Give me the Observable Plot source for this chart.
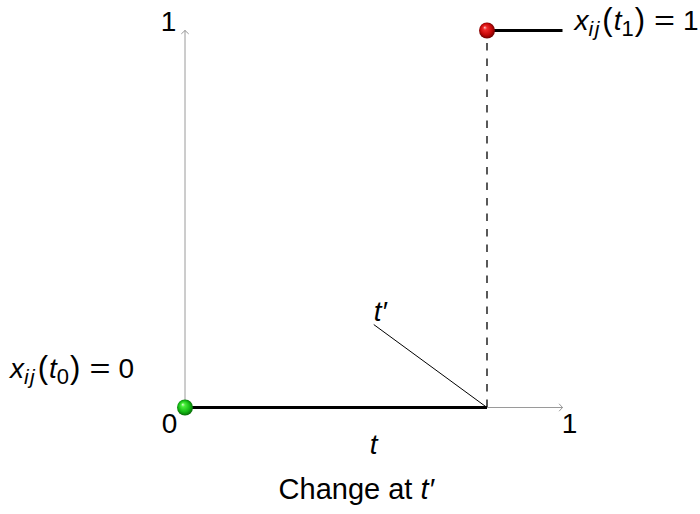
<!DOCTYPE html>
<html>
<head>
<meta charset="utf-8">
<script src="https://cdn.jsdelivr.net/npm/d3@7"></script>
<script src="https://cdn.jsdelivr.net/npm/@observablehq/plot@0.6"></script>
<style>
  html, body { margin: 0; padding: 0; background: #fff; }
  #chart svg { display: block; }
</style>
</head>
<body>
<div id="chart"></div>
<script>
// ---- data ----
const axisFrom = [0, 0];          // origin (t, x)
const axisTEnd = 1;               // end of the t axis
const axisXEnd = 1;               // end of the state axis
const tPrime = 0.8;               // change time t'
const beforeT = [0, tPrime];      // state 0 segment
const afterT = [tPrime, 1];       // state 1 segment
const stateValues = [0, 1];
const pointT = [0, tPrime];
const pointX = [0, 1];
const pointKind = ["green", "red"];
const annotAnchor = [0.5, 0.22];  // where the t' pointer starts (t, x)
const tickLabels = ["0", "1", "1"];
const stateLabels = ["$x_{ij}(t_{0}) = 0$", "$x_{ij}(t_{1}) = 1$"];
const axisLabel = "$t$";
const annotLabel = "$t'$";
const captionText = "Change at $t'$";

// ---- derived tables ----
const axes = [
  {x1: axisFrom[0], y1: axisFrom[1], x2: axisTEnd, y2: axisFrom[1]},
  {x1: axisFrom[0], y1: axisFrom[1], x2: axisFrom[0], y2: axisXEnd}
];
const segments = [
  {x1: beforeT[0], x2: beforeT[1], y: stateValues[0]},
  {x1: afterT[0], x2: afterT[1], y: stateValues[1]}
];
const points = pointT.map((t, i) => ({t, x: pointX[i], kind: pointKind[i]}));

const FONT = "Liberation Sans, Arial, Helvetica, sans-serif";
const FS = 28;

const chart = Plot.plot({
  width: 700,
  height: 514,
  marginLeft: 184.5,
  marginRight: 138,
  marginTop: 30,
  marginBottom: 107,
  x: {domain: [0, 1], axis: null},
  y: {domain: [0, 1], axis: null},
  style: {fontFamily: FONT, background: "white", color: "black"},
  marks: [
    Plot.arrow(axes, {x1: "x1", y1: "y1", x2: "x2", y2: "y2", stroke: "#9a9a9a", strokeWidth: 1, headAngle: 95, headLength: 7}),
    Plot.ruleX([tPrime], {y1: stateValues[0], y2: stateValues[1], stroke: "black", strokeWidth: 1.3, strokeDasharray: "7.5,8"}),
    Plot.link([0], {x1: annotAnchor[0], y1: annotAnchor[1], x2: tPrime, y2: stateValues[0], stroke: "black", strokeWidth: 1}),
    Plot.link(segments, {x1: "x1", x2: "x2", y1: "y", y2: "y", stroke: "black", strokeWidth: 3}),
    Plot.dot(points.filter(d => d.kind === "green"), {x: "t", y: "x", r: 8, fill: "url(#ballGreen)", stroke: "none"}),
    Plot.dot(points.filter(d => d.kind === "red"), {x: "t", y: "x", r: 8, fill: "url(#ballRed)", stroke: "none"}),
    // tick labels
    Plot.text([tickLabels[0]], {x: 0, y: 0, text: d => d, dx: -15.5, dy: 17, fontSize: FS, fill: "black"}),
    Plot.text([tickLabels[1]], {x: 1, y: 0, text: d => d, dx: 7, dy: 17, fontSize: FS, fill: "black"}),
    Plot.text([tickLabels[2]], {x: 0, y: 1, text: d => d, dx: -16.5, dy: -8, fontSize: FS, fill: "black"}),
    // state labels
    Plot.text([stateLabels[0]], {x: 0, y: 0, text: d => d, textAnchor: "end", dx: -51, dy: -38, fontSize: FS, fill: "black"}),
    Plot.text([stateLabels[1]], {x: 1, y: 1, text: d => d, textAnchor: "start", dx: 12, dy: -9, fontSize: FS, fill: "black"}),
    // axis label
    Plot.text([axisLabel], {x: 0.5, y: 0, text: d => d, dy: 38, fontSize: FS, fill: "black"}),
    // annotation label
    Plot.text([annotLabel], {x: annotAnchor[0], y: annotAnchor[1], text: d => d, textAnchor: "start", dx: 0, dy: -13, fontSize: FS, fill: "black"}),
    // caption
    Plot.text([captionText], {frameAnchor: "bottom", text: d => d, dx: -17.5, dy: 91, fontSize: 29, fill: "black"})
  ]
});

// gradients for the shaded balls
const svgSel = d3.select(chart.tagName.toLowerCase() === "svg" ? chart : chart.querySelector("svg"));
const defs = svgSel.insert("defs", ":first-child");
function ball(id, stops) {
  const g = defs.append("radialGradient").attr("id", id)
    .attr("cx", "50%").attr("cy", "50%").attr("r", "55%").attr("fx", "35%").attr("fy", "30%");
  stops.forEach(([o, c]) => g.append("stop").attr("offset", o).attr("stop-color", c));
}
ball("ballGreen", [["0%", "#d8ffd0"], ["22%", "#48ee38"], ["65%", "#14b814"], ["100%", "#045a04"]]);
ball("ballRed", [["0%", "#ffc8c8"], ["22%", "#f02a2a"], ["65%", "#c40808"], ["100%", "#5a0000"]]);

// math-style rich text: $...$ segments get italic letters, subscripts, wider relations
function richify(textEl) {
  const s = textEl.textContent;
  if (!s.includes("$")) return;
  const el = d3.select(textEl);
  el.text(null);
  let shift = 0;       // current baseline shift (px, positive = down)
  let nextDx = 0;
  const add = (str, {italic = false, size = null, sub = false, stretch = null, ls = null} = {}) => {
    const ts = el.append("tspan").text(str);
    if (italic) ts.attr("font-style", "italic");
    if (size) ts.attr("font-size", size);
    if (ls) ts.attr("letter-spacing", ls);
    const target = sub ? 6 : 0;
    if (target !== shift) { ts.attr("dy", target - shift); shift = target; }
    if (nextDx) { ts.attr("dx", nextDx); nextDx = 0; }
    if (stretch) ts.attr("textLength", stretch).attr("lengthAdjust", "spacingAndGlyphs");
    return ts;
  };
  s.split("$").forEach((part, i) => {
    if (!part) return;
    if (i % 2 === 0) { add(part); return; }
    const re = /_\{([^}]*)\}|[A-Za-z']+|\s*=\s*|[()]|[^A-Za-z_'()=\s]+/g;
    let m;
    while ((m = re.exec(part))) {
      const tok = m[0];
      if (m[1] !== undefined) {
        (m[1].match(/[A-Za-z]+|[^A-Za-z]+/g) || []).forEach(p => {
          const letters = /[A-Za-z]/.test(p);
          add(p, {italic: letters, size: letters ? 21 : 22, sub: true, ls: letters ? 1.5 : null});
        });
        nextDx = 1;
      } else if (tok.trim() === "=") {
        nextDx = 9;
        add("=", {stretch: 21});
        nextDx = 8;
      } else if (tok === "(" || tok === ")") {
        if (tok === "(") nextDx = 1.5;
        add(tok, {size: 31});
        if (tok === "(") nextDx = 1;
      } else {
        add(tok.replace(/'/g, "\u2032"), {italic: /[A-Za-z']/.test(tok)});
      }
    }
  });
}
svgSel.selectAll("text").each(function() { richify(this); });

document.getElementById("chart").appendChild(chart);
</script>
</body>
</html>
